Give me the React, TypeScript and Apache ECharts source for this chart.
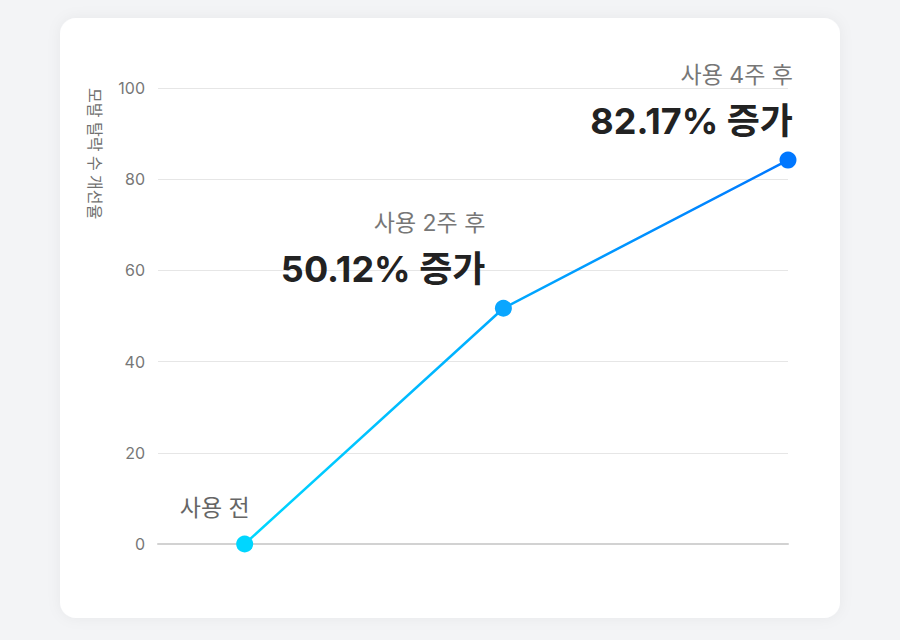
import React, { useEffect, useRef } from "react";
import * as echarts from "echarts";

const weeks = [0, 2, 4.2];
const improvement = [0, 51.7, 84.2];
const stageLabels = ["사용 전", "사용 2주 후", "사용 4주 후"];
const increaseLabels = ["", "50.12% 증가", "82.17% 증가"];
const pointColors = ["#00D6FF", "#0AA6FF", "#0077FF"];
const yTicks = { min: 0, max: 100, interval: 20 };
const axisName = "모발 탈락 수 개선율";

const FONT = "Inter, 'Noto Sans CJK KR', sans-serif";

export default function App() {
  const ref = useRef<HTMLDivElement>(null);
  useEffect(() => {
    document.body.style.margin = "0";
    const chart = echarts.init(ref.current!, null, { renderer: "svg" });
    const offsets: [number, number][] = [[5, -14], [-18, -6], [5, -6]];
    const data = weeks.map((w, i) => ({
      value: [w, improvement[i]],
      itemStyle: { color: pointColors[i] },
      label: {
        show: true,
        position: "top",
        distance: 0,
        align: "right",
        verticalAlign: "bottom",
        offset: offsets[i],
        formatter: increaseLabels[i]
          ? `{a|${stageLabels[i]}}\n{b|${increaseLabels[i]}}`
          : `{c|${stageLabels[i]}}`,
        rich: {
          a: { fontSize: 23, color: "#777", lineHeight: 42, align: "right", fontFamily: FONT },
          b: { fontSize: 36, fontWeight: "bold", color: "#222", lineHeight: 50, align: "right", fontFamily: FONT },
          c: { fontSize: 23, color: "#666", lineHeight: 28, align: "right", fontFamily: FONT },
        },
      },
    }));
    chart.setOption({
      animation: false,
      backgroundColor: "transparent",
      textStyle: { fontFamily: FONT },
      graphic: [
        {
          type: "rect",
          z: -100,
          shape: { x: 60, y: 18, width: 780, height: 600, r: 16 },
          style: { fill: "#fff", shadowBlur: 14, shadowColor: "rgba(0,0,0,0.05)" },
        },
        {
          type: "text",
          z: 100,
          x: 95,
          y: 88,
          rotation: -Math.PI / 2,
          style: {
            text: axisName,
            fontSize: 16,
            fill: "#707070",
            fontFamily: FONT,
            textAlign: "left",
            textVerticalAlign: "middle",
          },
        },
      ],
      grid: { left: 158, right: 112, top: 88, bottom: 96 },
      xAxis: {
        type: "value",
        min: -0.67,
        max: 4.2,
        axisLine: { show: true, lineStyle: { color: "#d2d2d2", width: 2 } },
        axisTick: { show: false },
        axisLabel: { show: false },
        splitLine: { show: false },
      },
      yAxis: {
        type: "value",
        min: yTicks.min,
        max: yTicks.max,
        interval: yTicks.interval,
        axisLine: { show: false },
        axisTick: { show: false },
        axisLabel: { color: "#777", fontSize: 16, margin: 13, fontFamily: FONT },
        splitLine: { lineStyle: { color: "#e6e6e6", width: 1 } },
      },
      series: [
        {
          type: "line",
          data,
          symbol: "circle",
          symbolSize: 17,
          lineStyle: {
            width: 2.5,
            color: new echarts.graphic.LinearGradient(0, 0, 1, 0, [
              { offset: 0, color: "#00D8FF" },
              { offset: 1, color: "#0077FF" },
            ]),
          },
          z: 5,
        },
      ],
    });
    return () => chart.dispose();
  }, []);
  return <div ref={ref} style={{ width: 900, height: 640, background: "#f3f4f6" }} />;
}
